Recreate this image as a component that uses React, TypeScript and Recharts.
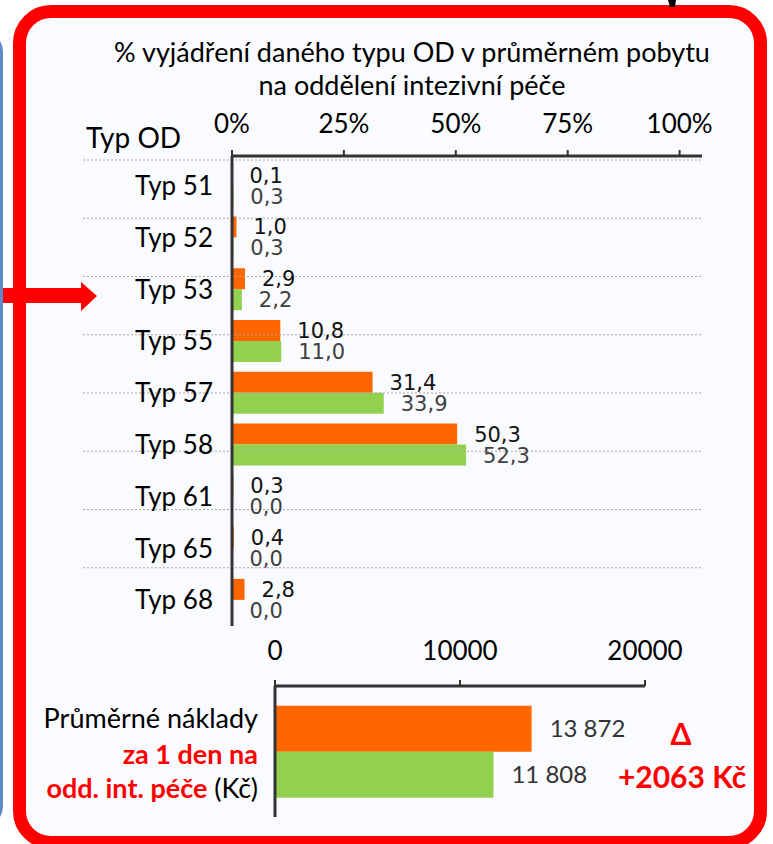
import React from 'react';
import { BarChart, Bar, XAxis, YAxis, LabelList, ReferenceLine } from 'recharts';

// ---- data ----
const categories = ['Typ 51', 'Typ 52', 'Typ 53', 'Typ 55', 'Typ 57', 'Typ 58', 'Typ 61', 'Typ 65', 'Typ 68'];
const currentShare = [0.1, 1.0, 2.9, 10.8, 31.4, 50.3, 0.3, 0.4, 2.8];
const referenceShare = [0.3, 0.3, 2.2, 11.0, 33.9, 52.3, 0.0, 0.0, 0.0];
const shareTicks = [0, 25, 50, 75, 100];
const titleLines = ['% vyjádření daného typu OD v průměrném pobytu', 'na oddělení intezivní péče'];
const categoryTitle = 'Typ OD';

const costCategory = ['Průměrné náklady'];
const costCurrent = [13872];
const costReference = [11808];
const costTicks = [0, 10000, 20000];
const costLabelLines = ['Průměrné náklady', 'za 1 den na', 'odd. int. péče', ' (Kč)'];
const deltaSymbol = 'Δ';
const deltaText = '+2063 Kč';

// ---- derived tables ----
const shareData = categories.map((name, i) => ({ name, cur: currentShare[i], prev: referenceShare[i] }));
const boundaries = categories.slice(1).map((_, i) => i + 1);
const costData = costCategory.map((name, i) => ({ name, cur: costCurrent[i], prev: costReference[i] }));

// ---- styles ----
const ORANGE = '#ff6600';
const GREEN = '#92d050';
const RED = '#ff0000';
const AXIS = '#333333';
const FONT = 'Lato, "Open Sans", sans-serif';
const LABEL_FONT = '"DejaVu Sans", sans-serif';

const fmtShare = (v: any) => Number(v).toFixed(1).replace('.', ',');
const fmtCost = (v: any) => String(v).replace(/\B(?=(\d{3})+(?!\d))/g, ' ');
// keep zero-valued bars present (hidden under the axis line) so their labels show
const zeroKeep = (v: any) => (Number(v) === 0 ? 0.5 : 0);

const SEP_EXTEND_LEFT = 149;
const SepLine = (p: any) => (
  <line
    x1={p.x1 - SEP_EXTEND_LEFT}
    y1={p.y1}
    x2={p.x2}
    y2={p.y2}
    stroke="#a6a6a6"
    strokeWidth={1.2}
    strokeDasharray="2 2"
  />
);

const CostTick = (p: any) => {
  const { x, y } = p;
  return (
    <text x={x} y={y} textAnchor="end" fontFamily={FONT} fontSize={27}>
      <tspan x={x} dy={-24} fill="#000">{costLabelLines[0]}</tspan>
      <tspan x={x} dy={36} fill={RED} fontWeight="bold">{costLabelLines[1]}</tspan>
      <tspan x={x} dy={34} fill={RED} fontWeight="bold">{costLabelLines[2]}</tspan>
      <tspan fill="#000">{costLabelLines[3]}</tspan>
    </text>
  );
};

export default function App() {
  return (
    <div style={{ position: 'absolute', left: 0, top: 0, width: 773, height: 844, overflow: 'hidden', background: '#ffffff' }}>
      {/* blue neighbouring panel edge */}
      <div
        style={{
          position: 'absolute', left: -200, top: 30, width: 203, height: 798,
          border: '3px solid #5b8bc9', borderRadius: 22, boxSizing: 'border-box',
        }}
      />
      {/* red frame */}
      <div
        style={{
          position: 'absolute', left: 13, top: 5, width: 754, height: 844,
          border: `13px solid ${RED}`, borderRadius: 38, boxSizing: 'border-box', background: '#fafbfe',
        }}
      />

      {/* top share chart */}
      <div style={{ position: 'absolute', left: 0, top: 0 }}>
        <BarChart
          width={773}
          height={660}
          data={shareData}
          layout="vertical"
          margin={{ top: 0, right: 71, bottom: 34, left: 0 }}
          barCategoryGap="9%"
          barGap={0}
        >
          <YAxis yAxisId="sep" type="number" domain={[0, categories.length]} reversed hide padding={{ top: 4, bottom: 0 }} />
          {boundaries.map((b) => (
            <ReferenceLine key={b} yAxisId="sep" y={b} shape={SepLine} />
          ))}
          <Bar dataKey="cur" fill={ORANGE} isAnimationActive={false} minPointSize={zeroKeep}>
            <LabelList dataKey="cur" position="right" offset={17} formatter={fmtShare} fill="#111" fontSize={21} fontFamily={LABEL_FONT} />
          </Bar>
          <Bar dataKey="prev" fill={GREEN} isAnimationActive={false} minPointSize={zeroKeep}>
            <LabelList dataKey="prev" position="right" offset={17} formatter={fmtShare} fill="#404040" fontSize={21} fontFamily={LABEL_FONT} />
          </Bar>
          <XAxis
            type="number"
            orientation="top"
            domain={[0, 105]}
            ticks={shareTicks}
            interval={0}
            height={156}
            tickFormatter={(v: any) => `${v}%`}
            axisLine={{ stroke: AXIS, strokeWidth: 3 }}
            tickLine={{ stroke: AXIS, strokeWidth: 2 }}
            tickSize={6}
            tickMargin={17}
            tick={{ fill: '#000', fontSize: 26, fontFamily: FONT }}
          />
          <YAxis
            type="category"
            dataKey="name"
            width={232}
            interval={0}
            padding={{ top: 4, bottom: 0 }}
            axisLine={{ stroke: AXIS, strokeWidth: 3 }}
            tickLine={false}
            tickSize={0}
            tickMargin={19}
            tick={{ fill: '#000', fontSize: 26, fontFamily: FONT }}
          />
        </BarChart>
      </div>

      {/* bottom cost chart */}
      <div style={{ position: 'absolute', left: 0, top: 0 }}>
        <BarChart
          width={773}
          height={844}
          data={costData}
          layout="vertical"
          margin={{ top: 0, right: 128, bottom: 27, left: 0 }}
          barCategoryGap="15%"
          barGap={0}
        >
          <Bar dataKey="cur" fill={ORANGE} isAnimationActive={false}>
            <LabelList dataKey="cur" position="right" offset={18} formatter={fmtCost} fill="#333" fontSize={24} fontFamily={FONT} />
          </Bar>
          <Bar dataKey="prev" fill={GREEN} isAnimationActive={false}>
            <LabelList dataKey="prev" position="right" offset={18} formatter={fmtCost} fill="#333" fontSize={24} fontFamily={FONT} />
          </Bar>
          <XAxis
            type="number"
            orientation="top"
            domain={[0, 20000]}
            ticks={costTicks}
            interval={0}
            height={686}
            axisLine={{ stroke: AXIS, strokeWidth: 3 }}
            tickLine={{ stroke: AXIS, strokeWidth: 2 }}
            tickSize={6}
            tickMargin={20}
            tick={{ fill: '#000', fontSize: 26, fontFamily: FONT }}
          />
          <YAxis
            type="category"
            dataKey="name"
            width={275}
            interval={0}
            axisLine={{ stroke: AXIS, strokeWidth: 3 }}
            tickLine={false}
            tickSize={0}
            tickMargin={17}
            tick={CostTick}
          />
        </BarChart>
      </div>

      {/* texts and decorations */}
      <svg width={773} height={844} style={{ position: 'absolute', left: 0, top: 0, pointerEvents: 'none' }}>
        <polygon points="668,0 676,0 675,7 670,7" fill="#000" />
        <text x={412} y={62} textAnchor="middle" fontFamily={FONT} fontSize={27} fill="#000">{titleLines[0]}</text>
        <text x={412} y={95} textAnchor="middle" fontFamily={FONT} fontSize={27} fill="#000">{titleLines[1]}</text>
        <text x={86} y={148} fontFamily={FONT} fontSize={28} fill="#000">{categoryTitle}</text>
        <polygon points="3,288 81,288 81,282 97,296 81,311 81,303 3,303" fill={RED} />
        <text x={681} y={745} textAnchor="middle" fontFamily={FONT} fontSize={30} fontWeight="bold" fill={RED}>{deltaSymbol}</text>
        <text x={682} y={788} textAnchor="middle" fontFamily={FONT} fontSize={30} fontWeight="bold" fill={RED}>{deltaText}</text>
      </svg>
    </div>
  );
}
